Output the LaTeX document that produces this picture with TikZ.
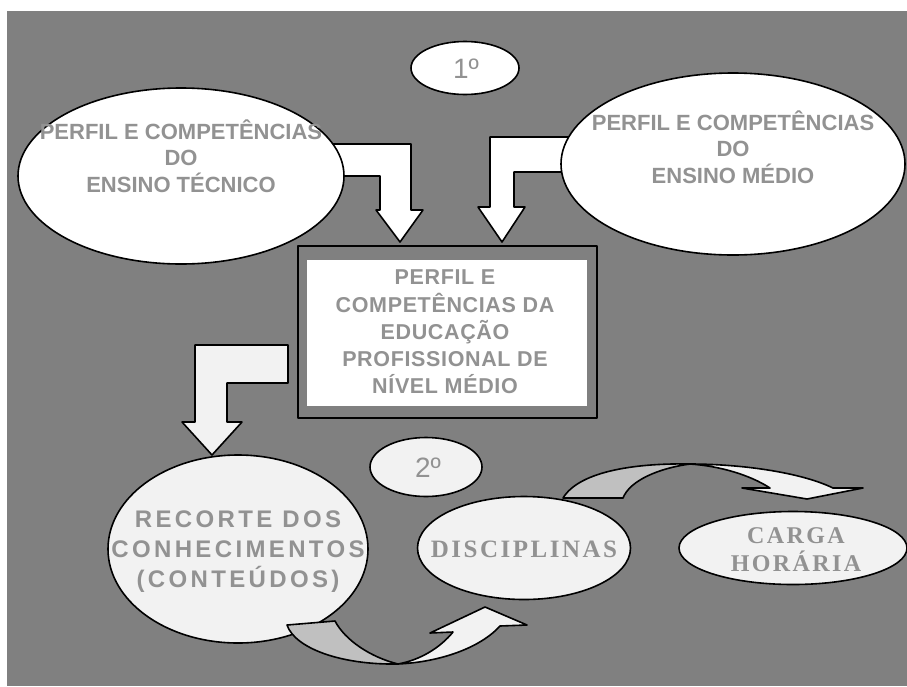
\documentclass[tikz,border=0pt]{standalone}
\usepackage{fontspec}
\setmainfont{Liberation Sans}
\newfontfamily\widesans[LetterSpace=14]{Liberation Sans}
\newfontfamily\boxsans[LetterSpace=3]{Liberation Sans}
\newfontfamily\wideserif[LetterSpace=10]{Liberation Serif}
\usetikzlibrary{shapes.geometric}
\definecolor{bg}{RGB}{128,128,128}
\definecolor{txt}{RGB}{146,146,146}
\definecolor{lite}{RGB}{242,242,242}
\definecolor{shade}{RGB}{192,192,192}
\begin{document}
\begin{tikzpicture}[x=1pt,y=-1pt,line join=round,
  oval/.style={ellipse,draw=black,line width=1.6pt,inner sep=0pt},
  lbl/.style={text=txt,align=center,inner sep=0pt},
  blockarrow/.style={draw=black,line width=1.6pt,fill=white},
  topfont/.style={font=\fontsize{22}{26.5}\selectfont\bfseries},
  boxfont/.style={font=\fontsize{21.5}{27.2}\selectfont\bfseries\boxsans},
  ordfont/.style={font=\fontsize{28}{30}\selectfont}]
\fill[white] (0,0) rectangle (907,686);
\fill[bg] (7,11) rectangle (907,686);
\useasboundingbox (0,0) rectangle (907,686);

% top bent arrows
\draw[blockarrow] (320,144) -- (411,144) -- (411,210) -- (423,210) -- (400,242)
  -- (376,210) -- (380,210) -- (380,176) -- (320,176) -- cycle;
\draw[blockarrow] (580,137) -- (490,137) -- (490,207) -- (478,207) -- (502,242)
  -- (525,207) -- (514,207) -- (514,172) -- (580,172) -- cycle;

% top ellipses
\node[oval,fill=white,minimum width=326,minimum height=176] (tec) at (181,176) {};
\node[lbl,topfont] (tect) at (181,156) {PERFIL E COMPETÊNCIAS\\DO\\ENSINO TÉCNICO};
\node[oval,fill=white,minimum width=344,minimum height=182] (med) at (733,164) {};
\node[lbl,topfont] (medt) at (733,147) {PERFIL E COMPETÊNCIAS\\DO\\ENSINO MÉDIO};
\node[oval,fill=white,minimum width=108,minimum height=53] (um) at (465,68) {};
\node[lbl,ordfont] (umt) at (466,69) {1º};

% central box
\node[draw=black,line width=2.2pt,fill=bg,minimum width=299,minimum height=172,inner sep=0pt] (boxo) at (447.5,332) {};
\node[fill=white,minimum width=280,minimum height=146,inner sep=0pt] (boxi) at (447,333) {};
\node[lbl,boxfont] (boxt) at (445,332) {PERFIL E\\COMPETÊNCIAS DA\\EDUCAÇÃO\\PROFISSIONAL DE\\NÍVEL MÉDIO};

% lower-left bent arrow
\draw[blockarrow,fill=lite] (195,345) -- (288,345) -- (288,383) -- (227,383) -- (227,422)
  -- (242,422) -- (212,455) -- (182,422) -- (195,422) -- cycle;

% lower ellipses
\node[oval,fill=lite,minimum width=260,minimum height=188] (rec) at (238,549) {};
\node[lbl,font=\fontsize{24}{30}\selectfont\bfseries\widesans] (rect) at (238,552) {RECORTE DOS\\CONHECIMENTOS\\(CONTEÚDOS)};
\node[oval,fill=lite,minimum width=112,minimum height=59] (dois) at (426,467) {};
\node[lbl,ordfont] (doist) at (428,468) {2º};
\node[oval,fill=lite,minimum width=213,minimum height=103] (dis) at (524,548) {};
\node[lbl,font=\fontsize{25}{30}\selectfont\bfseries\wideserif] (dist) at (524,549) {DISCIPLINAS};
\node[oval,fill=lite,minimum width=228,minimum height=73] (car) at (793,548) {};
\node[lbl,font=\fontsize{24}{28}\selectfont\bfseries\wideserif] (cart) at (796,550) {CARGA\\HORÁRIA};

% curved arrow DISCIPLINAS -> CARGA HORARIA
\draw[blockarrow,fill=shade] (563,498) .. controls (580,470) and (640,463) .. (690,464)
  .. controls (660,468) and (630,480) .. (623,498) -- cycle;
\draw[blockarrow,fill=lite] (690,464) .. controls (740,464) and (800,472) .. (833,488)
  -- (863,488) -- (807,499) -- (742,488) -- (770,488)
  .. controls (750,475) and (720,466) .. (690,464) -- cycle;

% curved arrow RECORTE -> DISCIPLINAS
\draw[blockarrow,fill=shade] (287,625) .. controls (295,648) and (340,665) .. (398,664)
  .. controls (370,657) and (345,640) .. (335,621) -- cycle;
\draw[blockarrow,fill=lite] (398,664) .. controls (440,662) and (480,648) .. (500,626)
  -- (527,625) -- (485,607) -- (430,633) -- (453,632)
  .. controls (440,648) and (420,660) .. (398,664) -- cycle;
\end{tikzpicture}
\end{document}
